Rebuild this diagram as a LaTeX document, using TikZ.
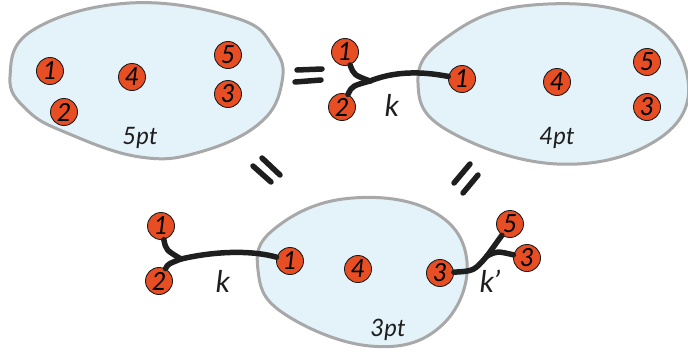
\documentclass[tikz,border=0pt]{standalone}
\usepackage{fontspec}
\setmainfont{Lato}
\definecolor{ballc}{HTML}{E84E24}
\definecolor{blobf}{HTML}{E3F3F9}
\definecolor{blobd}{HTML}{A8A8A8}
\definecolor{ink}{HTML}{1E1E1E}
\tikzset{
  blob/.style={fill=blobf, draw=blobd, line width=3pt},
  ball/.style={circle, fill=ballc, draw=ink, line width=0.9pt, minimum size=27pt, inner sep=0pt, font=\itshape\fontsize{25}{25}\selectfont},
  conn/.style={draw=ink, line width=5.5pt, line cap=round},
  eqs/.style={draw=ink, line width=5.5pt, line cap=round},
  lab/.style={font=\itshape\fontsize{30}{30}\selectfont, text=ink},
  ptlab/.style={font=\itshape\fontsize{24}{24}\selectfont, text=ink}
}
\begin{document}
\begin{tikzpicture}[x=1pt,y=-1pt]
\useasboundingbox (0,0) rectangle (688,356);
\begin{scope}
\clip (0,0) rectangle (688,356);
% blobs
\draw[blob] plot[smooth cycle, tension=0.7] coordinates {(10,77) (33,30) (130,3) (236,18) (274,48) (282,82) (260,123) (200,152) (140,157) (67,133) (27,110)};
\draw[blob] plot[smooth cycle, tension=0.7] coordinates {(418,83) (443,40) (523,6) (640,17) (688,80) (657,140) (557,164) (447,130)};
\draw[blob] plot[smooth cycle, tension=0.7] coordinates {(258,270) (273,230) (343,199) (430,210) (467,262) (440,327) (370,346) (283,313)};
\end{scope}
% equals signs
\draw[eqs] (297,70) -- (322,69);
\draw[eqs] (295,82) -- (321,80);
\draw[eqs] (253,166) -- (271,182);
\draw[eqs] (262,158) -- (280,175);
\draw[eqs] (470,164) -- (454,183);
\draw[eqs] (478,175) -- (463,193);
% top-left blob balls
\node[ball] (a1) at (50,71) {1};
\node[ball] (a2) at (64,112) {2};
\node[ball] (a4) at (132,77) {4};
\node[ball] (a5) at (228,55) {5};
\node[ball] (a3) at (228,94) {3};
\node[ptlab] (a) at (140,138) {5pt};
% top-right
\node[ball] (o1) at (345,52) {1};
\node[ball] (o2) at (342,107) {2};
\node[ball] (b1) at (462,79) {1};
\node[ball] (b4) at (557,82) {4};
\node[ball] (b5) at (647,62) {5};
\node[ball] (b3) at (647,107) {3};
\node[ptlab] (b) at (557,138) {4pt};
\node[lab] (kb) at (392,105) {k};
\coordinate (j1) at (370,81);
% bottom
\node[ball] (c1) at (161,226) {1};
\node[ball] (c2) at (159,281) {2};
\node[ball] (d1) at (290,261) {1};
\node[ball] (d4) at (358,269) {4};
\node[ball] (d3) at (440,273) {3};
\node[ball] (e5) at (510,224) {5};
\node[ball] (e3) at (527,258) {3};
\node[ptlab] (d) at (388,330) {3pt};
\node[lab] (kc) at (223,281) {k};
\node[lab] (kd) at (490,281) {k’};
\coordinate (j2) at (181,259);
\coordinate (j3) at (487,256);
% connectors
\draw[conn] (o1) .. controls (354,75) .. (j1);
\draw[conn] (o2) .. controls (352,86) .. (j1);
\draw[conn] (j1) .. controls (400,69) and (430,73) .. (b1);
\draw[conn] (c1) .. controls (166,250) .. (j2);
\draw[conn] (c2) .. controls (168,264) .. (j2);
\draw[conn] (j2) .. controls (220,250) and (255,251) .. (d1);
\draw[conn] (d3) .. controls (474,271) .. (j3);
\draw[conn] (j3) -- (e5);
\draw[conn] (j3) .. controls (497,251) .. (e3);
\end{tikzpicture}
\end{document}
